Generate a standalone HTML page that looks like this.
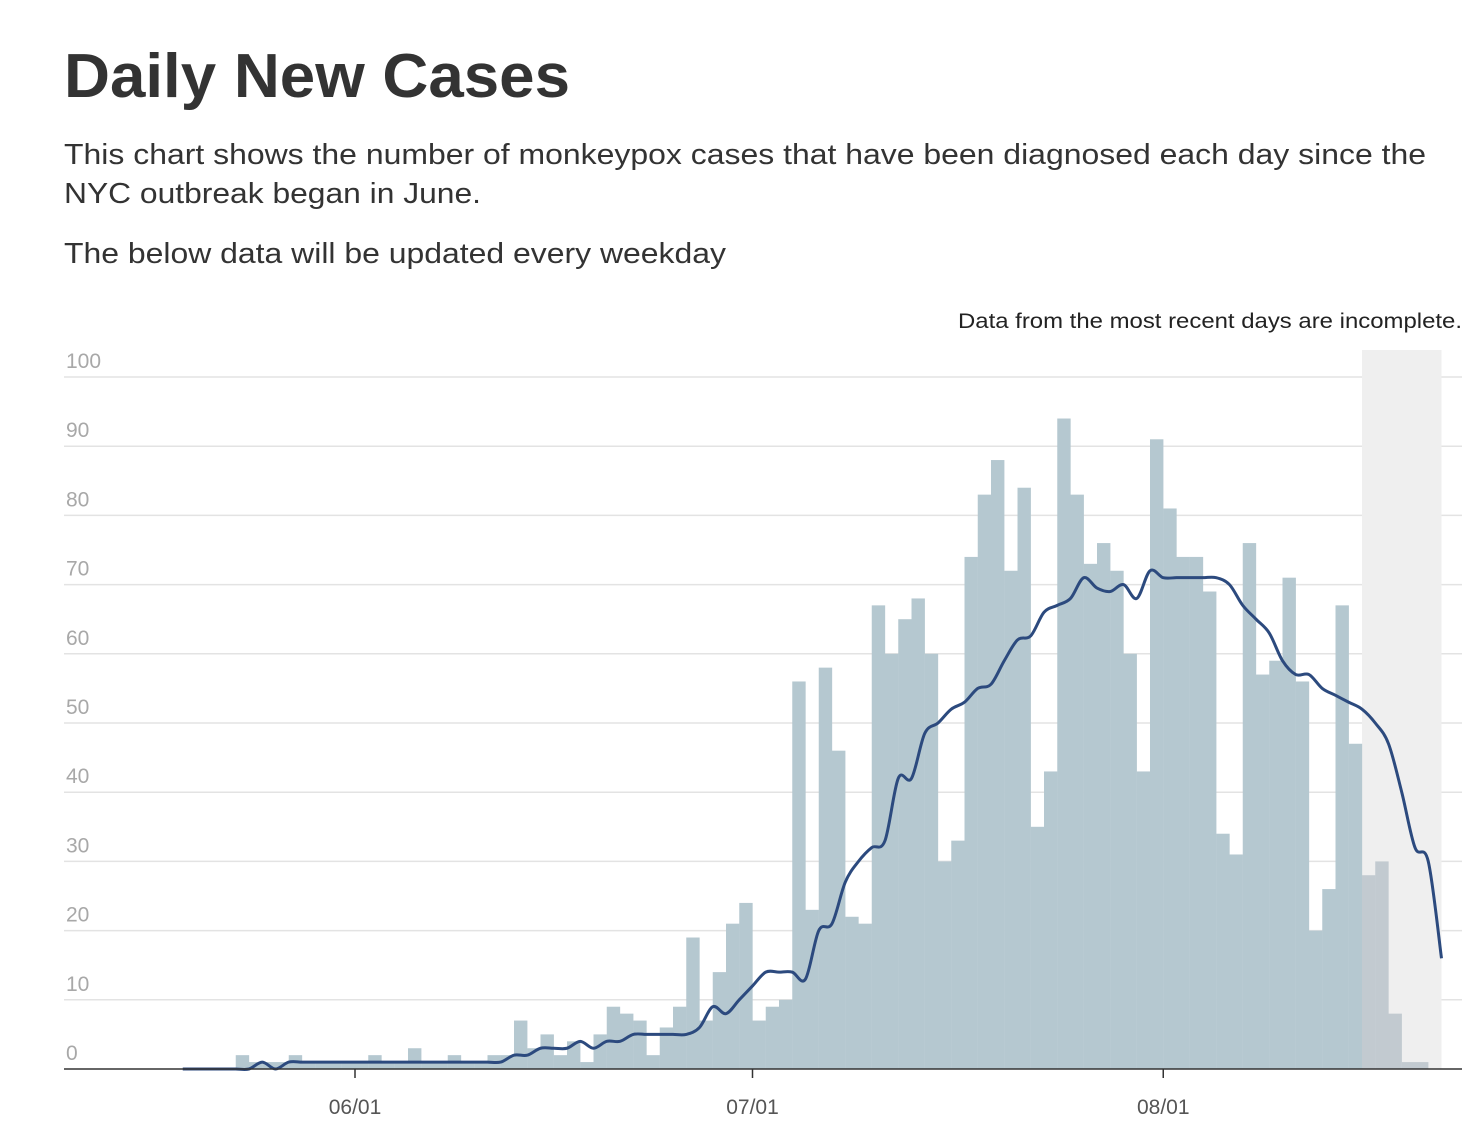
<!DOCTYPE html>
<html><head><meta charset="utf-8"><style>
html,body{margin:0;padding:0;background:#fff;}
svg{display:block;font-family:"Liberation Sans",Arial,sans-serif;}
</style></head><body>
<svg id="chart" width="1484" height="1142" viewBox="0 0 1484 1142" xmlns="http://www.w3.org/2000/svg">
<text x="64" y="97" font-size="62" font-weight="bold" fill="#333" textLength="506" lengthAdjust="spacingAndGlyphs">Daily New Cases</text>
<text x="64" y="164" font-size="29" fill="#333" textLength="1362" lengthAdjust="spacingAndGlyphs">This chart shows the number of monkeypox cases that have been diagnosed each day since the</text>
<text x="64" y="203" font-size="29" fill="#333" textLength="417" lengthAdjust="spacingAndGlyphs">NYC outbreak began in June.</text>
<text x="64" y="263" font-size="29" fill="#333" textLength="662" lengthAdjust="spacingAndGlyphs">The below data will be updated every weekday</text>
<text x="1462" y="328" font-size="21" fill="#222" text-anchor="end" textLength="504" lengthAdjust="spacingAndGlyphs">Data from the most recent days are incomplete.</text>
<g id="grid"></g><g id="shade"></g><g id="bars"></g><g id="line"></g><g id="axis"></g>
</svg>
<script>
const startDay = -13; // days relative to 06/01
const caseCounts = [0,0,0,0,2,1,1,1,2,1,1,1,1,1,2,1,1,3,1,1,2,1,1,2,2,7,3,5,2,4,1,5,9,8,7,2,6,9,19,7,14,21,24,7,9,10,56,23,58,46,22,21,67,60,65,68,60,30,33,74,83,88,72,84,35,43,94,83,73,76,72,60,43,91,81,74,74,69,34,31,76,57,59,71,56,20,26,67,47,28,30,8,1,1];
const avgValues = [0,0,0,0,0,0,1,0,1,1,1,1,1,1,1,1,1,1,1,1,1,1,1,1,1,2,2,3,3,3,4,3,4,4,5,5,5,5,5,6,9,8,10,12,14,14,14,13,20,21,27,30,32,33,42,42,48.5,50,52,53,55,55.6,59,62,62.6,66,67,68,71,69.5,69,70,68,72,71,71,71,71,71,70,67,65,63,59,57,57,55,54,53,52,50,47,40,32,30,16];
const yTicks = [0,10,20,30,40,50,60,70,80,90,100];
const xTickDays = [0,30,61];
const xTickLabels = ["06/01","07/01","08/01"];
const incompleteFrom = 76, incompleteTo = 82;

const NS = "http://www.w3.org/2000/svg";
const x = d => 355 + 13.25 * d;
const y = v => 1069 - 6.92 * v;
function mk(tag, attrs, parent){const e=document.createElementNS(NS,tag);for(const k in attrs)e.setAttribute(k,attrs[k]);document.getElementById(parent).appendChild(e);return e;}

yTicks.forEach(v=>{
  if(v>0){const g=mk("line",{x1:64,x2:1462,y1:y(v),y2:y(v),stroke:"#e3e3e3","stroke-width":1.5},"grid");
  
  }
  const t=mk("text",{x:66,y:y(v)-9,"font-size":21,fill:"#a8a8a8"},"grid");t.textContent=v;
  
  
});
const sh=mk("rect",{x:x(incompleteFrom),y:350,width:x(incompleteTo)-x(incompleteFrom),height:719,fill:"#efefef"},"shade");



caseCounts.forEach((v,k)=>{
  const d=startDay+k; if(v<=0) return;
  const b=mk("rect",{x:x(d),y:y(v),width:13.4,height:y(0)-y(v),fill:d>=incompleteFrom?"#c2cad0":"#b5c8d0"},"bars");
  
  
});

const pts=avgValues.map((v,k)=>[x(startDay+k),y(v)]);
let dstr="M"+pts[0][0]+","+pts[0][1];
for(let i=0;i<pts.length-1;i++){
  const p0=pts[Math.max(0,i-1)],p1=pts[i],p2=pts[i+1],p3=pts[Math.min(pts.length-1,i+2)];
  const c1=[p1[0]+(p2[0]-p0[0])/6,p1[1]+(p2[1]-p0[1])/6],c2=[p2[0]-(p3[0]-p1[0])/6,p2[1]-(p3[1]-p1[1])/6];
  dstr+=` C${c1[0]},${c1[1]} ${c2[0]},${c2[1]} ${p2[0]},${p2[1]}`;
}
const ln=mk("path",{d:dstr,fill:"none",stroke:"#2c4a7e","stroke-width":3},"line");



const ax=mk("line",{x1:64,x2:1462,y1:1069,y2:1069,stroke:"#333","stroke-width":1.5},"axis");


xTickDays.forEach((d,i)=>{
  const tk=mk("line",{x1:x(d),x2:x(d),y1:1069,y2:1078,stroke:"#333","stroke-width":1.5},"axis");
  
  
  const t=mk("text",{x:x(d),y:1114,"font-size":21,fill:"#555","text-anchor":"middle"},"axis");t.textContent=xTickLabels[i];
  
  
});
</script>
</body></html>
